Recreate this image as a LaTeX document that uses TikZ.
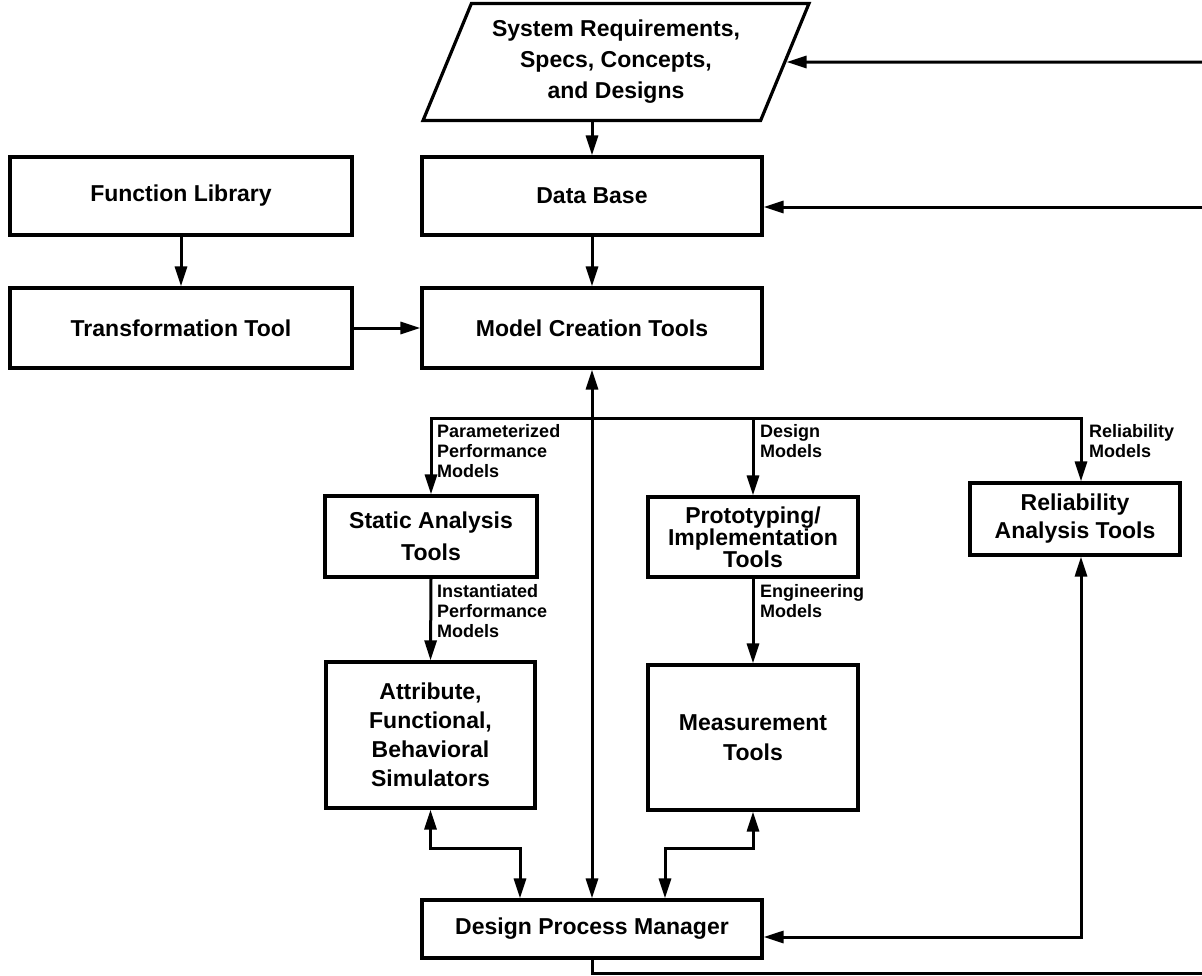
\documentclass[tikz,border=0pt]{standalone}
\usepackage{fontspec}
\setmainfont{Liberation Sans}
\usetikzlibrary{arrows.meta,shapes.geometric}

% text sizes for box captions and connector labels
\newcommand\boxfont[1]{\fontsize{23}{#1}\selectfont\bfseries}
\newcommand\tagfont{\fontsize{18}{20}\selectfont\bfseries}

\tikzset{
  box/.style={draw, line width=3.2pt, inner sep=0pt, align=center},
  tag/.style={font=\tagfont, align=left, inner sep=0pt, anchor=north west},
  wire/.style={line width=3pt},
  link/.style={wire, -{Triangle[length=20pt,width=12pt]}},
  link2/.style={wire, {Triangle[length=20pt,width=12pt]}-{Triangle[length=20pt,width=12pt]}},
}

\begin{document}
\begin{tikzpicture}[x=1pt,y=-1pt]
\useasboundingbox (0,0) rectangle (1202,975);

% input document
\node[box, trapezium, trapezium left angle=63.6, trapezium right angle=116.4,
      trapezium stretches=true, minimum width=388pt, minimum height=117pt,
      font={\boxfont{31}}] (req) at (616,62)
      {System Requirements,\\Specs, Concepts,\\and Designs};

% boxes
\node[box, minimum width=342pt, minimum height=78pt, font={\boxfont{29}}] (fl) at (181,196) {Function Library};
\node[box, minimum width=342pt, minimum height=80pt, font={\boxfont{29}}] (tt) at (181,328) {Transformation Tool};
\node[box, minimum width=340pt, minimum height=78pt, font={\boxfont{29}}] (db) at (592,196) {Data Base};
\node[box, minimum width=340pt, minimum height=80pt, font={\boxfont{29}}] (mc) at (592,328) {Model Creation Tools};
\node[box, minimum width=212pt, minimum height=81pt, font={\boxfont{32}}] (sa) at (431,536.5) {Static Analysis\\Tools};
\node[box, minimum width=209pt, minimum height=146pt, font={\boxfont{29}}] (at) at (430.5,735) {Attribute,\\Functional,\\Behavioral\\Simulators};
\node[box, minimum width=210pt, minimum height=80pt, font={\boxfont{22}}] (pr) at (753,537) {Prototyping/\\Implementation\\Tools};
\node[box, minimum width=210pt, minimum height=145pt, font={\boxfont{30}}] (me) at (753,737.5) {Measurement\\Tools};
\node[box, minimum width=210pt, minimum height=72pt, font={\boxfont{28}}] (rl) at (1075,519) {Reliability\\Analysis Tools};
\node[box, minimum width=340pt, minimum height=58pt, font={\boxfont{29}}] (dpm) at (592,929) {Design Process Manager};

% helper coordinates
\coordinate (inA) at (1202,62);
\coordinate (inB) at (1202,207);
\coordinate (outC) at (1202,973);
\coordinate (busy) at (0,418);
\coordinate (yb) at (0,848);

% upper connectors
\draw[link] (db.north |- req.south) -- (db.north);
\draw[link] (inA) -- (req.east);
\draw[link] (inB) -- (inB -| db.east);
\draw[link] (db.south) -- (mc.north);
\draw[link] (fl.south) -- (tt.north);
\draw[link] (tt.east) -- (mc.west);
\draw[link2] (mc.south) -- (dpm.north);

% model distribution bus
\draw[link] (mc.south |- busy) -| (sa.north);
\draw[link] (mc.south |- busy) -| ([xshift=6pt]rl.north);
\draw[link] (pr.north |- busy) -- (pr.north);
\draw[link] (sa.south) -- (at.north);
\draw[link] (pr.south) -- (me.north);

% links to the manager
\draw[link2] (at.south) -- (at.south |- yb) -| ([xshift=-72pt]dpm.north);
\draw[link2] (me.south) -- (me.south |- yb) -| ([xshift=73pt]dpm.north);
\draw[link2] ([xshift=6pt]rl.south) |- ([yshift=-8pt]dpm.east);
\draw[wire] (dpm.south) |- (outC);

% connector labels
\node[tag] (t1) at (437,424) {Parameterized\\Performance\\Models};
\node[tag] (t2) at (437,584) {Instantiated\\Performance\\Models};
\node[tag] (t3) at (760,424) {Design\\Models};
\node[tag] (t4) at (760,584) {Engineering\\Models};
\node[tag] (t5) at (1089,424) {Reliability\\Models};
\end{tikzpicture}
\end{document}
